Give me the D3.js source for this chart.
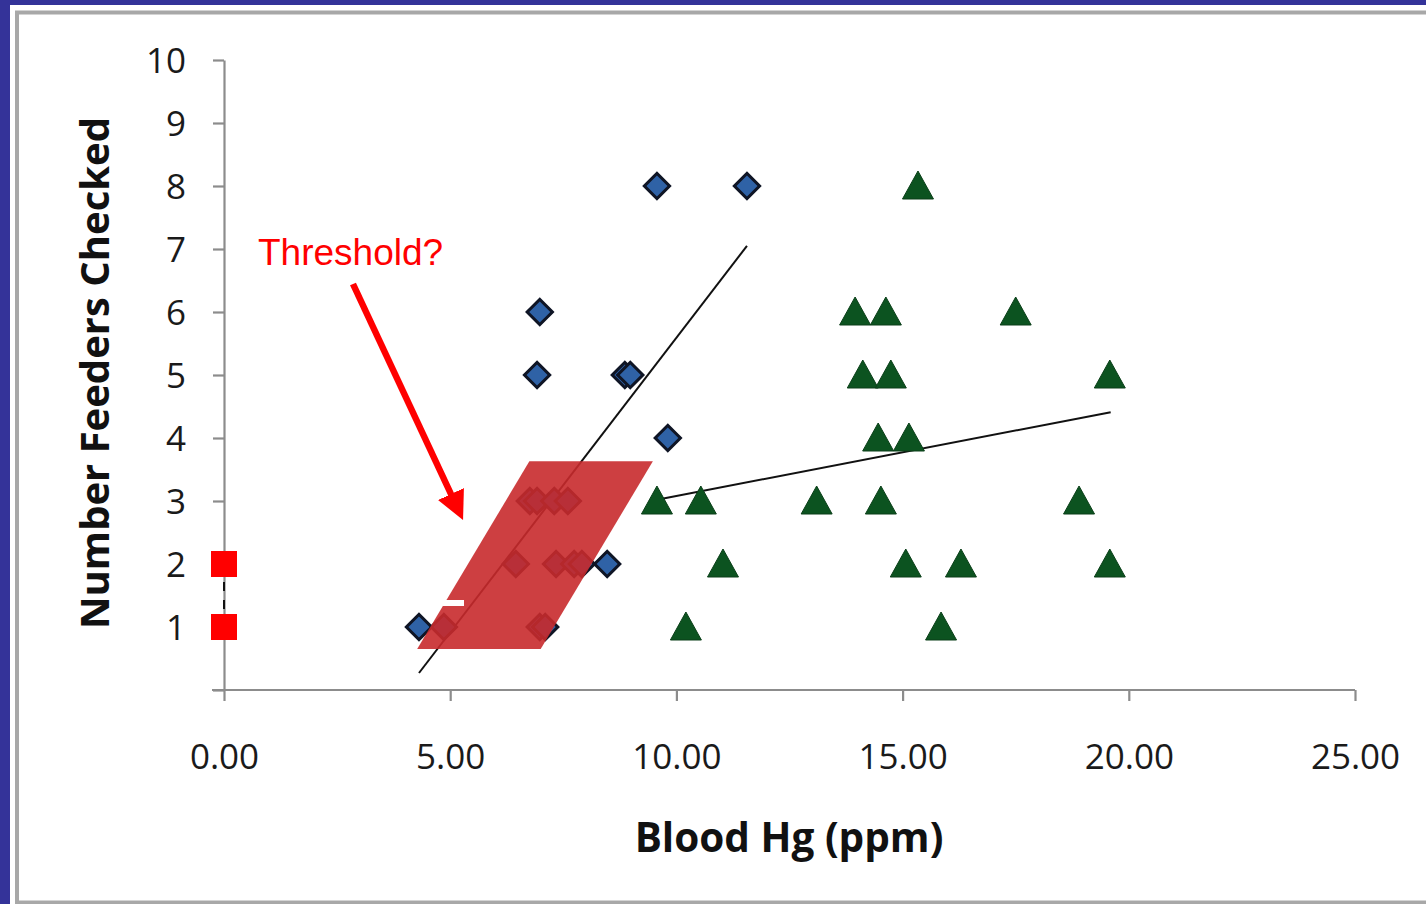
<!DOCTYPE html>
<html lang="en">
<head>
<meta charset="utf-8">
<script src="https://d3js.org/d3.v7.min.js"></script>
<style>
  html, body { margin: 0; padding: 0; background: #343399; }
  svg { display: block; }
</style>
</head>
<body>
<div id="chart"></div>
<script>
// blue diamonds: Blood Hg (ppm), feeders checked
var blueX = [4.31, 4.86, 6.98, 7.10, 6.45, 7.34, 7.74, 7.91, 8.47, 6.76, 6.92, 7.30, 7.60, 9.81, 6.92, 8.86, 8.98, 6.98, 9.57, 11.56];
var blueY = [1, 1, 1, 1, 2, 2, 2, 2, 2, 3, 3, 3, 3, 4, 5, 5, 5, 6, 8, 8];

// green triangles
var greenX = [15.34, 13.95, 14.63, 17.50, 14.12, 14.74, 19.58, 14.46, 15.14, 9.57, 10.54, 13.10, 14.52, 18.90, 11.03, 15.07, 16.29, 19.58, 10.21, 15.85];
var greenY = [8, 6, 6, 6, 5, 5, 5, 4, 4, 3, 3, 3, 3, 3, 2, 2, 2, 2, 1, 1];

// red squares
var redX = [0, 0];
var redY = [1, 2];

// trend lines [x, y]
var blueTrend = [[4.31, 0.27], [11.56, 7.05]];
var greenTrend = [[9.57, 3.02], [19.60, 4.41]];
var redTrend = [[0, 1], [0, 2]];

// threshold band (parallelogram corners, data units)
var bandPts = [[6.75, 3.63], [9.48, 3.63], [7.0, 0.65], [4.27, 0.65]];

var xTicks = [0, 5, 10, 15, 20, 25];
var yTicks = [1, 2, 3, 4, 5, 6, 7, 8, 9, 10];

let width = 1426;
let height = 904;

let svg = d3.select("#chart")
    .append("svg")
    .attr("width", width)
    .attr("height", height);

// frame
svg.append("rect").attr("x", 0).attr("y", 0).attr("width", width).attr("height", height).attr("fill", "#343399");
svg.append("rect").attr("x", 10).attr("y", 5).attr("width", width - 10).attr("height", height - 5).attr("fill", "#ffffff");
svg.append("rect").attr("x", 17).attr("y", 12.5).attr("width", width).attr("height", 890)
    .attr("fill", "#fff").attr("stroke", "#a8a8a8").attr("stroke-width", 4);

let x = d3.scaleLinear().domain([0, 25]).range([224, 1355]);
let y = d3.scaleLinear().domain([0, 10]).range([690, 60]);

// axes
let xAxis = d3.axisBottom(x).tickValues(xTicks).tickSize(11).tickSizeOuter(0)
    .tickFormat(d3.format(".2f"));
let yAxis = d3.axisLeft(y).tickValues([0].concat(yTicks)).tickSize(11).tickSizeOuter(0)
    .tickFormat(function(d) { return d === 0 ? "" : d; });

let gx = svg.append("g").attr("transform", "translate(0,690)").call(xAxis);
let gy = svg.append("g").attr("transform", "translate(224,0)").call(yAxis);

gx.select(".domain").attr("d", "M212,0H1355");
[gx, gy].forEach(function(g) {
    g.selectAll("path,line").attr("stroke", "#8c8c8c").attr("stroke-width", 2.2);
    g.selectAll("text").attr("fill", "#1a1a1a")
        .style("font-family", "'Open Sans', sans-serif").style("font-size", "35px");
});
gx.selectAll("text").attr("dy", "1.85em");
gy.selectAll("text").attr("x", -38).attr("dy", "0.36em");

// axis titles
svg.append("text")
    .attr("x", 789).attr("y", 852)
    .attr("text-anchor", "middle")
    .style("font-family", "'Open Sans', sans-serif")
    .style("font-weight", "bold").style("font-size", "40.5px")
    .attr("fill", "#111")
    .text("Blood Hg (ppm)");

svg.append("text")
    .attr("transform", "translate(109,373) rotate(-90)")
    .attr("text-anchor", "middle")
    .style("font-family", "'Open Sans', sans-serif")
    .style("font-weight", "bold").style("font-size", "40px")
    .attr("fill", "#111")
    .text("Number Feeders Checked");

let line = d3.line().x(function(d) { return x(d[0]); }).y(function(d) { return y(d[1]); });

// trend lines
[blueTrend, greenTrend].forEach(function(t) {
    svg.append("path").attr("d", line(t)).attr("fill", "none")
        .attr("stroke", "#111").attr("stroke-width", 2);
});
svg.append("path").attr("d", line(redTrend)).attr("fill", "none")
    .attr("stroke", "#111").attr("stroke-width", 2).attr("stroke-dasharray", "9,9");

// diamonds
svg.selectAll(".blue")
    .data(blueX.map(function(v, i) { return [v, blueY[i]]; }))
    .enter().append("path")
    .attr("d", d3.symbol().type(d3.symbolSquare).size(320))
    .attr("transform", function(d) { return "translate(" + x(d[0]) + "," + y(d[1]) + ") rotate(45)"; })
    .attr("fill", "#2f62a6").attr("stroke", "#0f1525").attr("stroke-width", 3);

// triangles
svg.selectAll(".green")
    .data(greenX.map(function(v, i) { return [v, greenY[i]]; }))
    .enter().append("path")
    .attr("d", "M0,-15L15.5,13L-15.5,13Z")
    .attr("transform", function(d) { return "translate(" + x(d[0]) + "," + y(d[1]) + ")"; })
    .attr("fill", "#0c5320").attr("stroke", "#0a3f18").attr("stroke-width", 1);

// squares
svg.selectAll(".red")
    .data(redX.map(function(v, i) { return [v, redY[i]]; }))
    .enter().append("rect")
    .attr("x", function(d) { return x(d[0]) - 13; })
    .attr("y", function(d) { return y(d[1]) - 13; })
    .attr("width", 26).attr("height", 26)
    .attr("fill", "#ff0000");

// threshold band
svg.append("path")
    .attr("d", line(bandPts) + "Z")
    .attr("fill", "#c82a2c").attr("fill-opacity", 0.9);
svg.append("rect").attr("x", 443).attr("y", 600).attr("width", 21).attr("height", 6).attr("fill", "#fff");

// annotation
svg.append("defs").append("marker")
    .attr("id", "head").attr("viewBox", "0 0 10 10")
    .attr("refX", 5).attr("refY", 5)
    .attr("markerWidth", 4.4).attr("markerHeight", 4.4)
    .attr("orient", "auto")
    .append("path").attr("d", "M0,0L10,5L0,10Z").attr("fill", "#ff0000");

svg.append("line")
    .attr("x1", 353).attr("y1", 284).attr("x2", 457).attr("y2", 507)
    .attr("stroke", "#ff0000").attr("stroke-width", 6.5)
    .attr("marker-end", "url(#head)");

svg.append("text")
    .attr("x", 258).attr("y", 265)
    .style("font-family", "'Liberation Sans', Arial, sans-serif")
    .style("font-size", "37px")
    .attr("fill", "#ff0000")
    .text("Threshold?");
</script>
</body>
</html>
